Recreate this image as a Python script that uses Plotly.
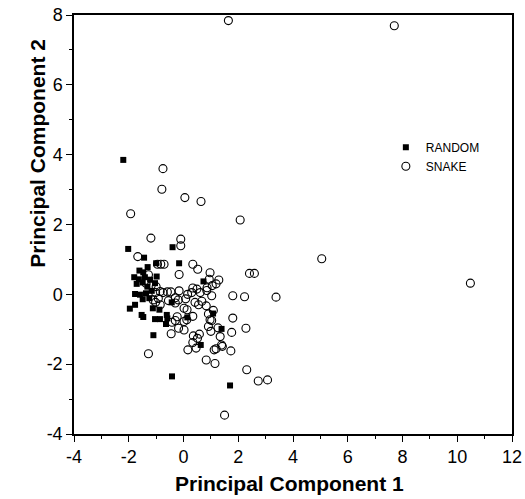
import plotly.graph_objects as go

# RANDOM series (filled squares)
random_x = [-2.20, -2.02, -0.40, -1.44, -1.00, -0.16, -1.31, -1.61, -1.47, -1.80, -1.63, -1.41,
            -1.22, -1.71, -1.49, -1.32, -1.04, -1.77, -1.59, -1.37, -1.16, -1.49, -1.25, -1.77,
            -1.96, -1.53, -1.47, -1.12, -0.88, -1.04, -0.86, -0.61, -0.59, -0.64, -0.43, -1.10,
            0.14, 1.39, 0.63, -0.42, 1.70, 0.73, 1.08, -0.98]
random_y = [3.85, 1.30, 1.35, 1.05, 0.89, 0.89, 0.78, 0.68, 0.63, 0.49, 0.43, 0.49,
            0.42, 0.30, 0.34, 0.22, 0.32, 0.01, -0.01, 0.03, 0.10, -0.14, -0.11, -0.30,
            -0.41, -0.59, -0.65, -0.40, -0.44, -0.71, -0.71, -0.59, -0.69, -0.85, -0.23, -1.17,
            -0.66, -0.99, -1.45, -2.35, -2.61, 0.37, -0.55, 0.51]

# SNAKE series (open circles)
snake_x = [1.64, 7.70, -0.75, -0.79, 0.05, 0.64, -1.93, 2.07, 5.05, 10.48, 1.50,
           -1.19, -0.10, -0.10, -1.67, -0.95, -0.83, -0.71, 0.34, 0.52, 0.97, 2.41, 2.59,
           -0.16, -1.28, 0.94, 1.29, 1.19, 1.05, 0.86,
           -1.37, -1.18, -1.00, -1.02, -0.92, -1.02, -0.85, -0.75, -0.59, -0.46, -1.11, -0.85,
           -0.16, 0.34, 0.49, 0.61, 0.85, 1.03, 0.30, 0.15, -0.30, -0.19, 0.08, -0.30, -0.55,
           0.42, 0.67, 0.83, 0.55, 0.02, 1.09, 0.13,
           1.80, 2.23, 3.38,
           0.34, 0.91, 1.03, 1.80, -0.30, 0.02, 0.12, -0.23, -0.42, -0.18, 0.02, -0.45, 0.91,
           1.00, 1.34, 1.76, 2.28, 0.97, 1.26, 0.36, 0.58, 0.51, 0.34, 0.46, 0.16, 1.39, 1.19,
           1.12, 1.42, 1.73, -1.28, 0.83, 1.15, 2.31, 2.73, 3.07]
snake_y = [7.84, 7.69, 3.60, 3.01, 2.77, 2.66, 2.31, 2.13, 1.02, 0.32, -3.46,
           1.61, 1.58, 1.39, 1.08, 0.86, 0.86, 0.86, 0.86, 0.72, 0.62, 0.60, 0.60,
           0.57, 0.56, 0.43, 0.41, 0.30, 0.25, 0.19,
           0.32, 0.25, 0.22, 0.05, -0.12, -0.23, 0.08, 0.05, 0.07, 0.07, -0.16, -0.30,
           0.10, 0.18, 0.15, 0.05, 0.11, -0.04, 0.05, 0.00, -0.10, -0.16, -0.13, -0.25, -0.18,
           -0.23, -0.20, -0.33, -0.30, -0.40, -0.46, -0.44,
           -0.04, -0.07, -0.08,
           -0.63, -0.56, -0.75, -0.68, -0.75, -0.78, -0.73, -0.64, -0.80, -0.97, -1.02, -1.13, -0.92,
           -1.06, -1.21, -1.09, -0.97, -0.73, -0.96, -1.19, -1.14, -1.26, -1.38, -1.54, -1.59, -1.45, -1.56,
           -1.59, -1.49, -1.62, -1.70, -1.88, -1.98, -2.16, -2.48, -2.45]

x_ticks = [-4, -2, 0, 2, 4, 6, 8, 10, 12]
x_tick_labels = ["-4", "-2", "0", "2", "4", "6", "8", "10", "12"]
y_ticks = [-4, -2, 0, 2, 4, 6, 8]
y_tick_labels = ["-4", "-2", "0", "2", "4", "6", "8"]

FONT = "Liberation Sans, Arial, sans-serif"

fig = go.Figure()
fig.add_trace(go.Scatter(
    x=random_x, y=random_y, mode="markers", name="RANDOM",
    marker=dict(symbol="square", size=6, color="black", line=dict(width=0)),
))
fig.add_trace(go.Scatter(
    x=snake_x, y=snake_y, mode="markers", name="SNAKE",
    marker=dict(symbol="circle-open", size=8, color="black", line=dict(width=1.1)),
))

axis_common = dict(
    showgrid=False, zeroline=False, showline=True, linecolor="black", linewidth=1.5,
    mirror=True, ticks="outside", ticklen=6, tickwidth=1.2, tickcolor="black",
    automargin=False,
    tickfont=dict(family=FONT, size=18, color="black"),
)
fig.update_xaxes(range=[-4, 12], tickvals=x_ticks, ticktext=x_tick_labels,
                 minor=dict(dtick=1, tick0=-4, ticks="outside", ticklen=3, tickcolor="black", tickwidth=1),
                 **axis_common)
fig.update_yaxes(range=[-4, 8], tickvals=y_ticks, ticktext=y_tick_labels,
                 minor=dict(dtick=1, tick0=-4, ticks="outside", ticklen=3, tickcolor="black", tickwidth=1),
                 **axis_common)

fig.update_layout(
    width=525, height=499,
    autosize=False,
    margin=dict(l=74, r=13, t=15, b=64.5, autoexpand=False),
    plot_bgcolor="white", paper_bgcolor="white",
    font=dict(family=FONT, color="black"),
    legend=dict(x=0.712, y=0.719, xanchor="left", yanchor="top",
                font=dict(family=FONT, size=12, color="black"),
                bgcolor="rgba(0,0,0,0)", itemwidth=30, tracegroupgap=0),
    annotations=[
        dict(text="<b>Principal Component 1</b>", xref="paper", yref="paper",
             x=0.493, y=-0.118, xanchor="center", yanchor="middle", showarrow=False,
             font=dict(family=FONT, size=21, color="black")),
        dict(text="<b>Principal Component 2</b>", xref="paper", yref="paper",
             x=-0.082, y=0.669, xanchor="center", yanchor="middle", showarrow=False,
             textangle=-90, font=dict(family=FONT, size=21, color="black")),
    ],
)

fig.write_html("out.html", config={"responsive": False, "displayModeBar": False},
               post_script="document.body.style.margin='0';document.body.style.overflow='hidden';")
